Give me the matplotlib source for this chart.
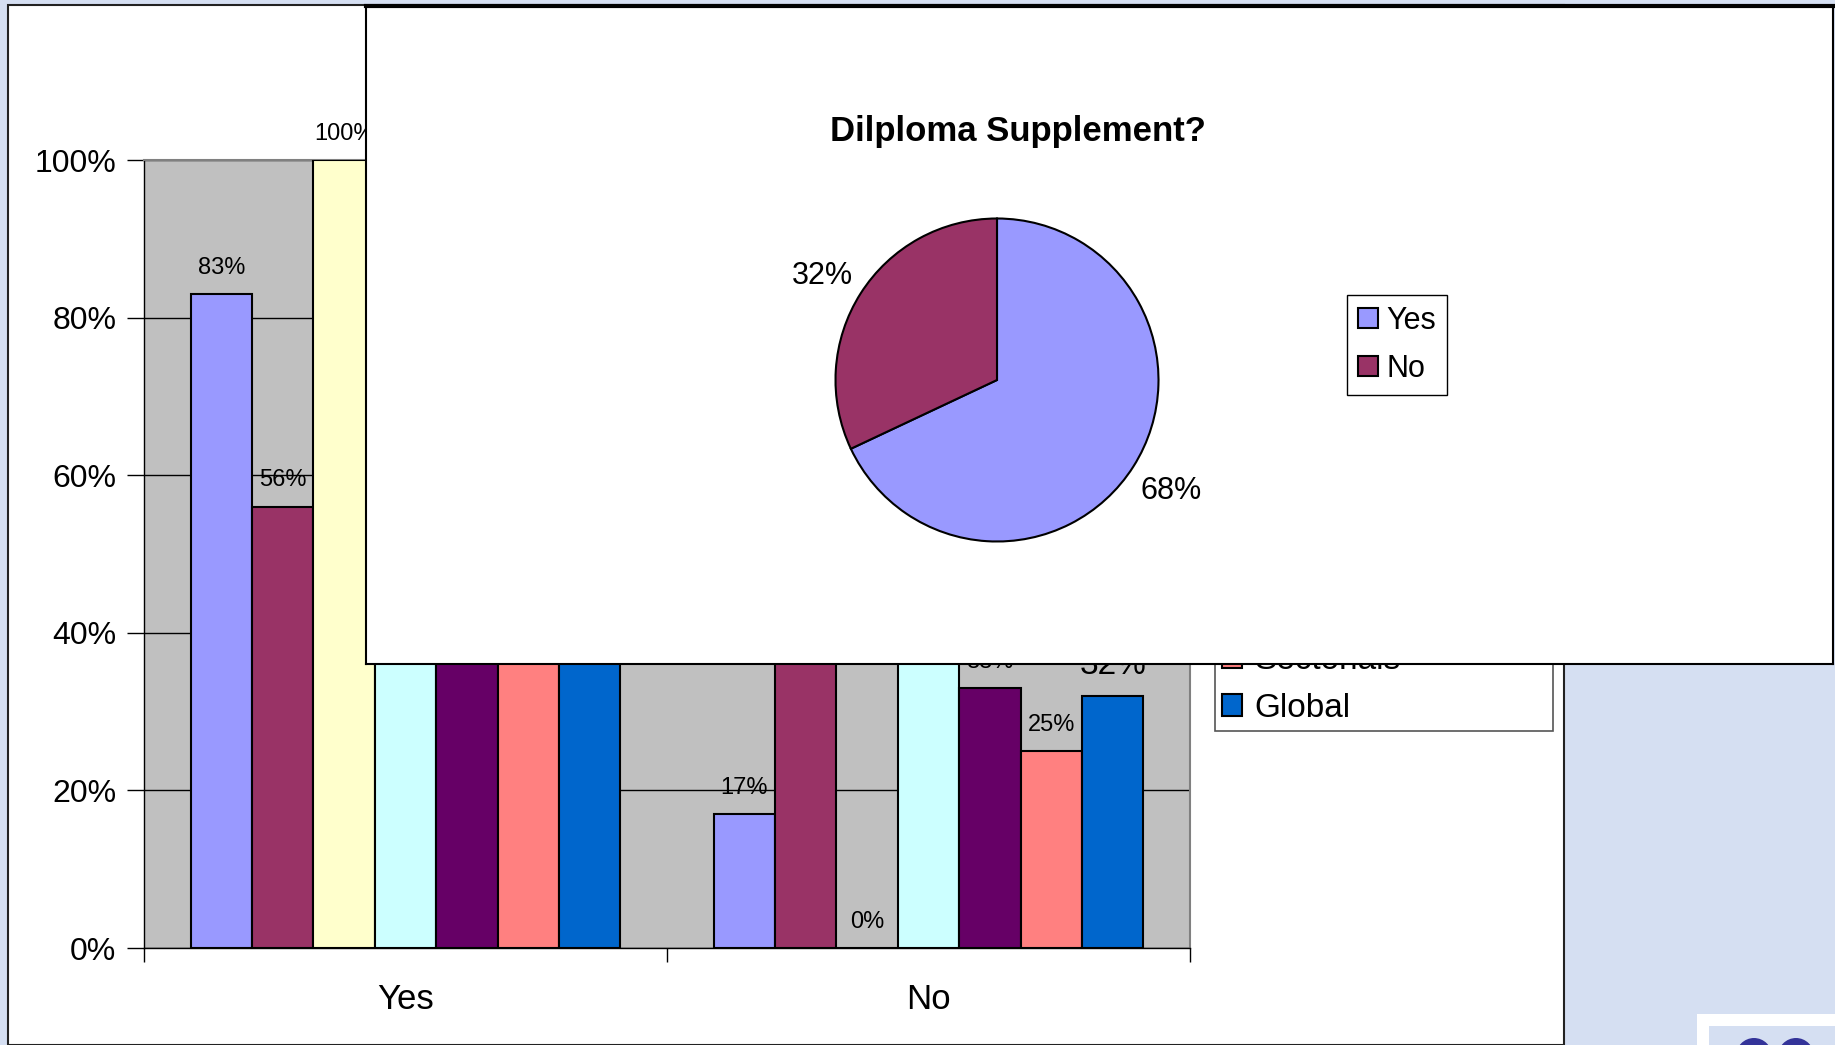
import matplotlib
matplotlib.use("Agg")
import matplotlib.pyplot as plt
from matplotlib.patches import Rectangle, Ellipse
import numpy as np

plt.rcParams['font.family'] = ['Liberation Sans', 'DejaVu Sans']

# survey answers per group (percent)
categories = ['Yes', 'No']
series_names = ['Universidades', 'Politécnicos', 'Públicas', 'Privadas',
                'Regionais', 'Sectoriais', 'Global']
series_colors = ['#9999FF', '#993366', '#FFFFCC', '#CCFFFF',
                 '#660066', '#FF8080', '#0066CC']
yes_values = [83, 56, 100, 60, 67, 75, 68]
no_values = [17, 44, 0, 40, 33, 25, 32]

# overall answer
pie_labels = ['Yes', 'No']
pie_values = [68, 32]
pie_colors = ['#9999FF', '#993366']
pie_title = 'Dilploma Supplement?'

W, H = 1835, 1045
fig = plt.figure(figsize=(W / 100, H / 100), dpi=100)
fig.patch.set_facecolor('#D5DFF2')


def box(x0, y0, x1, y1):
    # pixel box (top-left origin) -> figure fraction rect
    return [x0 / W, 1 - y1 / H, (x1 - x0) / W, (y1 - y0) / H]


# white slide panel
fig.add_artist(Rectangle((8 / W, 0), (1564 - 8) / W, 1 - 5 / H,
                         transform=fig.transFigure, facecolor='white',
                         edgecolor='#222222', lw=1.5, zorder=-5))

# ---- grouped bar chart ----
ax = fig.add_axes(box(144, 160, 1190, 948), zorder=1)
ax.set_facecolor('#C0C0C0')
n = len(series_names)
bw = 0.1174
x = np.arange(len(categories)) + 0.5
for i, name in enumerate(series_names):
    vals = [yes_values[i] / 100, no_values[i] / 100]
    pos = x + (i - (n - 1) / 2) * bw
    bars = ax.bar(pos, vals, width=bw, color=series_colors[i],
                  edgecolor='black', linewidth=1.5, label=name, zorder=3)
    texts = ax.bar_label(bars, labels=[f'{yes_values[i]}%', f'{no_values[i]}%'],
                         padding=11, fontsize=17, zorder=4)
    if name == 'Global':
        # the "No" label of the total series is set larger
        texts[1].set_fontsize(24)

ax.set_xlim(0, 2)
ax.set_ylim(0, 1)
ticks = np.arange(0, 1.01, 0.2)
ax.set_yticks(ticks)
ax.set_yticklabels([f'{int(round(v * 100))}%' for v in ticks])
ax.yaxis.grid(True, color='black', lw=1)
ax.set_axisbelow(True)
ax.tick_params(axis='y', direction='out', length=12, width=1, pad=8,
               labelsize=23)
ax.set_xticks([0, 1, 2])
ax.set_xticklabels([])
ax.set_xticks(x, minor=True)
ax.set_xticklabels(categories, minor=True)
ax.tick_params(axis='x', which='major', direction='out', length=10, width=1)
ax.tick_params(axis='x', which='minor', length=0, pad=25, labelsize=25)
for side in ['top', 'right']:
    ax.spines[side].set_color('#808080')
    ax.spines[side].set_linewidth(1.5)
for side in ['left', 'bottom']:
    ax.spines[side].set_color('black')
    ax.spines[side].set_linewidth(1)

leg = ax.legend(loc='lower left',
                bbox_to_anchor=(1215 / W, 1 - 731 / H, (1553 - 1215) / W, 0.3),
                bbox_transform=fig.transFigure, mode='expand', fontsize=24,
                handlelength=0.6, handleheight=0.6, labelspacing=0.5,
                borderaxespad=0, fancybox=False, framealpha=1,
                edgecolor='#555555', borderpad=0.22, handletextpad=0.35)
leg.get_frame().set_linewidth(1.2)
leg.set_zorder(10)

# ---- pie chart panel on top ----
panel = fig.add_axes(box(366, 6, 1833, 664), zorder=5)
panel.set_facecolor('white')
panel.set_xticks([])
panel.set_yticks([])
for s in panel.spines.values():
    s.set_color('black')
    s.set_linewidth(1.5)
panel.spines['top'].set_linewidth(3)
panel.text((1018 - 366) / (1833 - 366), 1 - (131 - 6) / (664 - 6), pie_title,
           transform=panel.transAxes, ha='center', va='center',
           fontsize=25, fontweight='bold')

r = 161.5
cx, cy = 997, 380
pax = fig.add_axes(box(cx - 1.25 * r, cy - 1.25 * r, cx + 1.25 * r, cy + 1.25 * r),
                   zorder=6)
wedges, _, pct = pax.pie(pie_values, colors=pie_colors, startangle=90,
                         counterclock=False, autopct=lambda p: f'{p:.0f}%',
                         pctdistance=1.28,
                         wedgeprops=dict(edgecolor='black', linewidth=1.5),
                         textprops=dict(fontsize=22))
pct[1].set_y(pct[1].get_position()[1] - 0.04)
pleg = pax.legend(wedges, pie_labels, loc='upper left',
                  bbox_to_anchor=(1347 / W, 1 - 295 / H),
                  bbox_transform=fig.transFigure, fontsize=22,
                  handlelength=0.65, handleheight=0.65, labelspacing=0.6,
                  borderaxespad=0, fancybox=False, framealpha=1,
                  edgecolor='black', borderpad=0.35, handletextpad=0.3)
pleg.get_frame().set_linewidth(1)

# corner logo fragment
fig.add_artist(Rectangle((1697 / W, 0), (W - 1697) / W, (H - 1014) / H,
                         transform=fig.transFigure, facecolor='white',
                         edgecolor='none', zorder=8))
fig.add_artist(Rectangle((1709 / W, 0), (W - 1709) / W, (H - 1026) / H,
                         transform=fig.transFigure, facecolor='#D5DFF2',
                         edgecolor='none', zorder=9))
for ccx in (1754, 1796):
    fig.add_artist(Ellipse((ccx / W, (H - 1056) / H), 36 / W, 36 / H,
                           transform=fig.transFigure, facecolor='#333399',
                           edgecolor='none', zorder=10))

fig.savefig('out.png', dpi=100)
